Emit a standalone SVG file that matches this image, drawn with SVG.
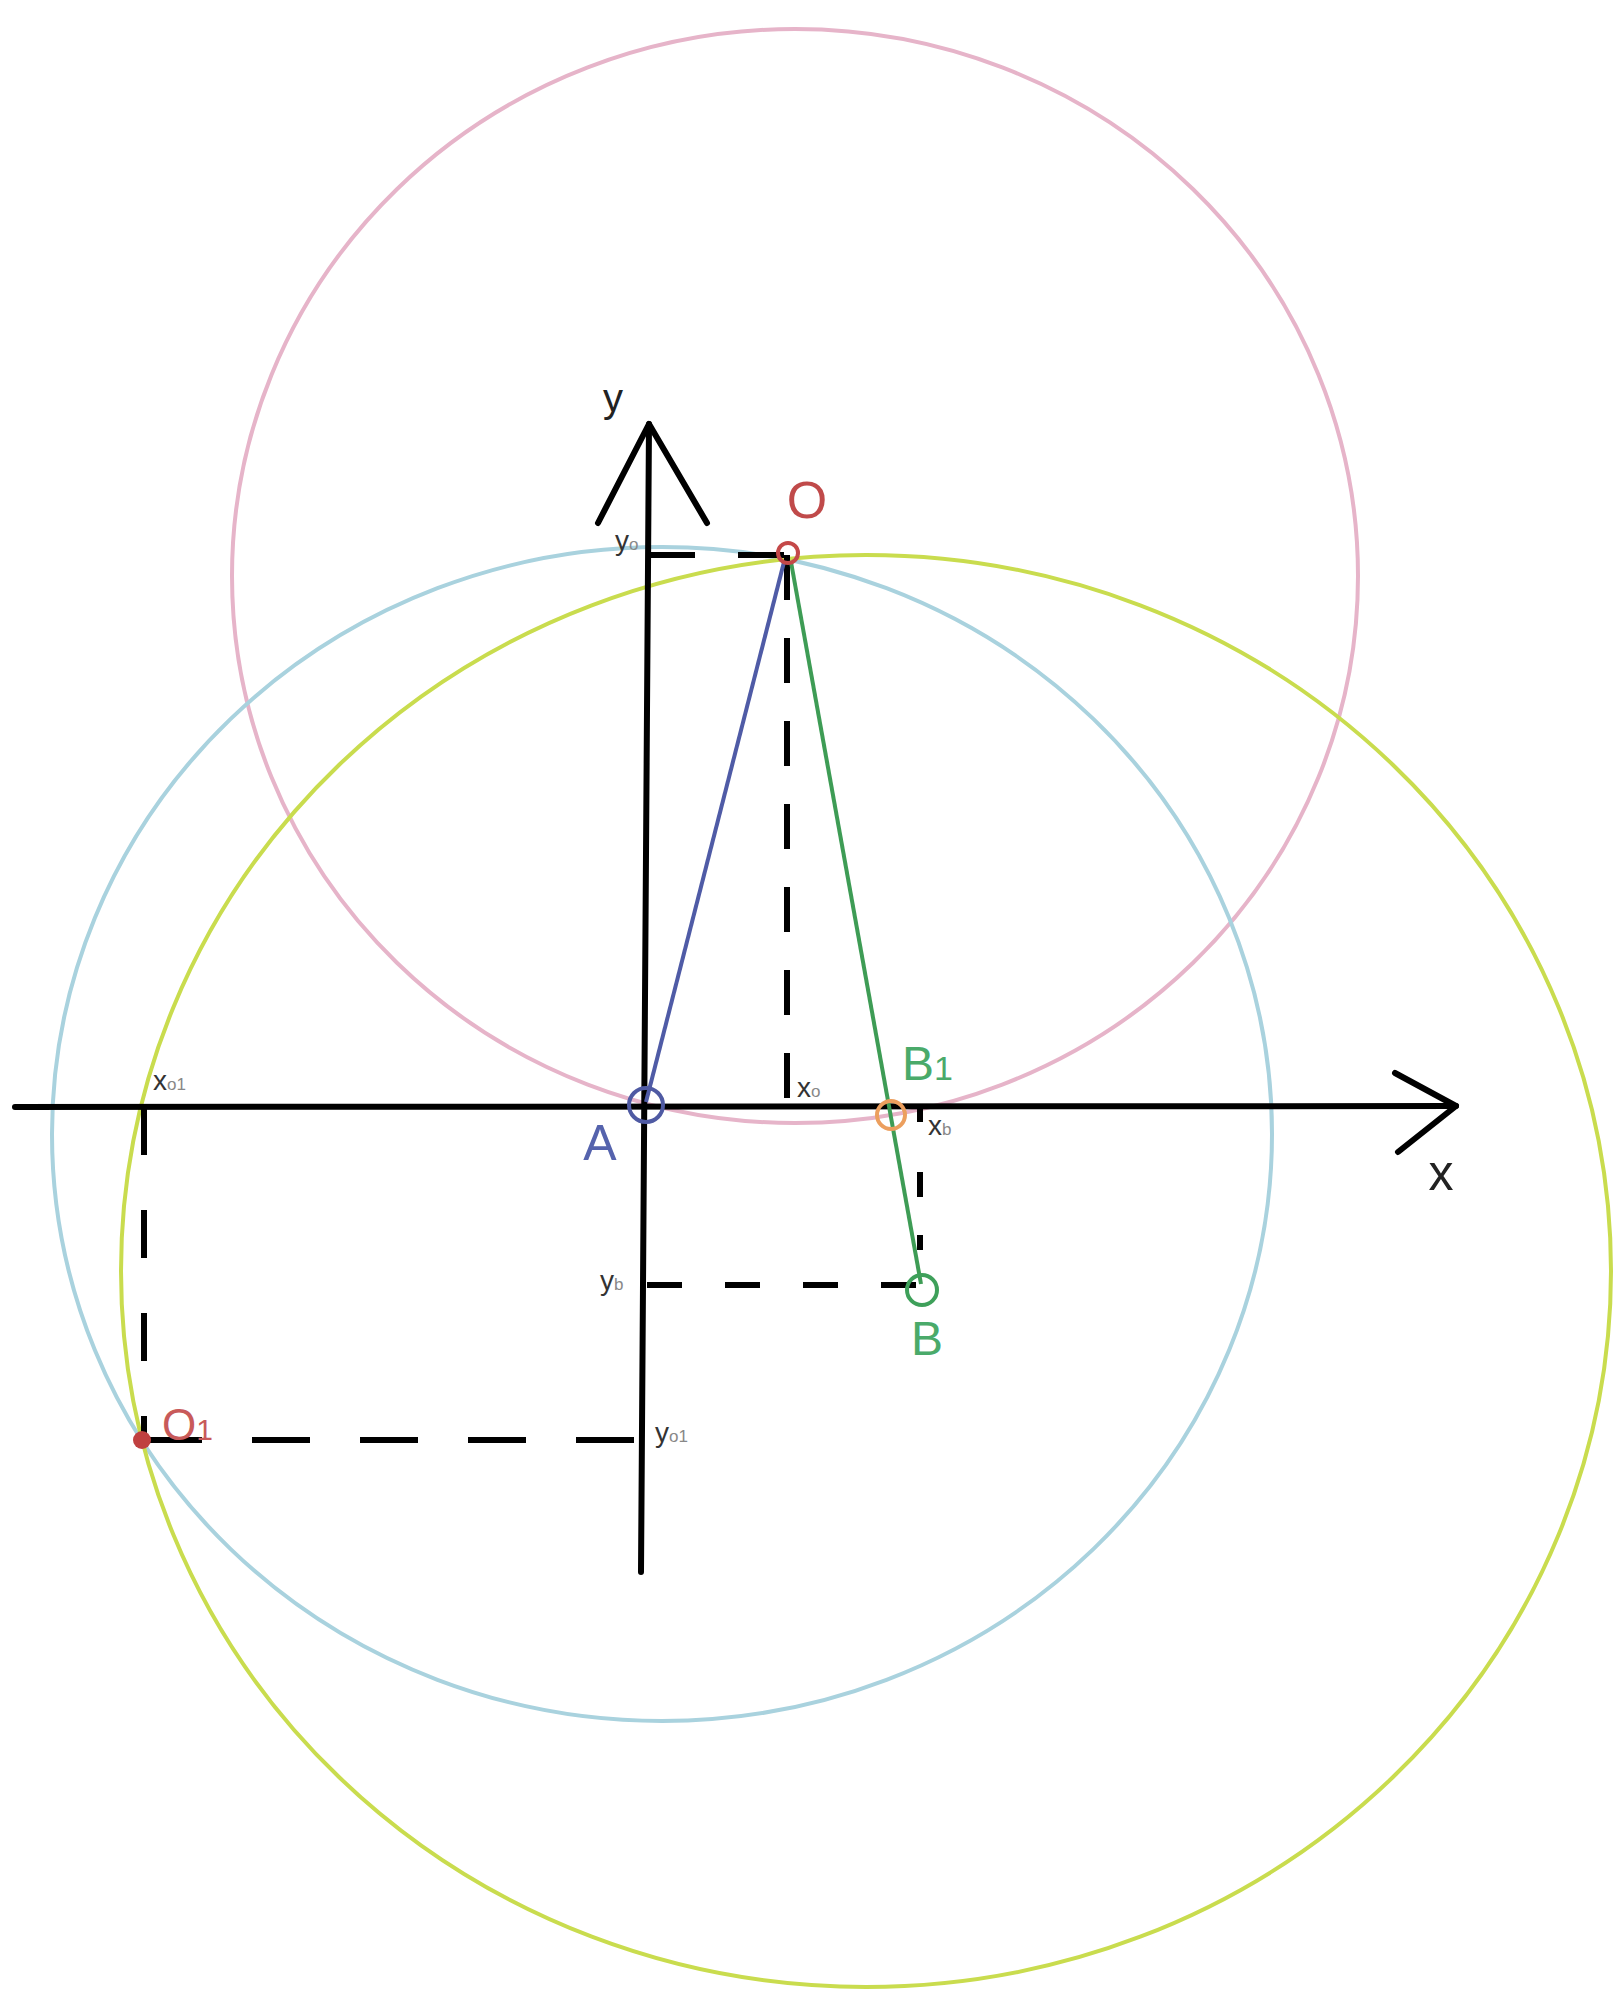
<svg xmlns="http://www.w3.org/2000/svg" width="1622" height="2013" viewBox="0 0 1622 2013">
<style>
.circ{fill:none;stroke-width:4}
.axis{fill:none;stroke:#000;stroke-width:6;stroke-linecap:round;stroke-linejoin:round}
.dash{fill:none;stroke:#000;stroke-width:6}
.lbl{font-family:"Liberation Sans",Arial,sans-serif}
.sm{font-family:"Liberation Sans",Arial,sans-serif;font-size:28px;fill:#333}
.sub{font-size:17px;fill:#888}
</style>
<rect width="1622" height="2013" fill="#fff"/>
<g id="circles">
<ellipse id="circle-pink" class="circ" cx="795" cy="576" rx="563" ry="547" stroke="#e6b4c9"/>
<ellipse id="circle-blue" class="circ" cx="662" cy="1134" rx="610" ry="587" stroke="#a9d2de"/>
<ellipse id="circle-yellow" class="circ" cx="866" cy="1271" rx="745" ry="716" stroke="#c9dc4e"/>
</g>
<g id="connectors">
<path id="y-axis" class="axis" d="M649,424 L641,1572"/>
<path id="y-arrow" class="axis" d="M598,523 L649,424 L707,523"/>
<path id="x-axis" class="axis" d="M15,1107 L1456,1106"/>
<path id="x-arrow" class="axis" d="M1395,1073 L1456,1106 L1398,1152"/>
<path id="dash-yo" class="dash" d="M649,555 L788,555" stroke-dasharray="46 43"/>
<path id="dash-xo" class="dash" d="M787,555 L787,1107" stroke-dasharray="45 38"/>
<path id="dash-xb" class="dash" d="M920,1107 L920,1287" stroke-dasharray="15 50 25 38"/>
<path id="dash-yb" class="dash" d="M647,1285 L920,1285" stroke-dasharray="35 43"/>
<path id="dash-xo1" class="dash" d="M144,1107 L144,1440" stroke-dasharray="48 55"/>
<path id="dash-yo1" class="dash" d="M144,1440 L645,1440" stroke-dasharray="58 50"/>
<path id="line-OA" d="M646,1102 L784,562" stroke="#4f5ba6" stroke-width="4" fill="none"/>
<path id="line-OB" d="M791,562 L921,1284" stroke="#3e9c55" stroke-width="4" fill="none"/>
</g>
<g id="node-O">
<circle cx="788" cy="553" r="10" fill="none" stroke="#c44848" stroke-width="4"/>
<text class="lbl" x="807" y="518" font-size="52" fill="#c04a4a" text-anchor="middle">O</text>
</g>
<g id="node-A">
<circle cx="646" cy="1105" r="17" fill="none" stroke="#4f5aa3" stroke-width="4"/>
<text class="lbl" x="600" y="1160" font-size="50" fill="#5563ad" text-anchor="middle">A</text>
</g>
<g id="node-B">
<circle cx="922" cy="1290" r="15" fill="none" stroke="#3ea05a" stroke-width="4"/>
<text class="lbl" x="927" y="1355" font-size="48" fill="#4aaa6a" text-anchor="middle">B</text>
</g>
<g id="node-B1">
<circle cx="891" cy="1115" r="14" fill="none" stroke="#ec9f5e" stroke-width="4"/>
<text class="lbl" x="902" y="1080" font-size="48" fill="#4aaa6a">B<tspan font-size="34">1</tspan></text>
</g>
<g id="node-O1">
<circle cx="142" cy="1440" r="9" fill="#c04040"/>
<text class="lbl" x="162" y="1440" font-size="44" fill="#c85a5a">O<tspan font-size="30">1</tspan></text>
</g>
<g id="axis-labels">
<text class="lbl" x="613" y="412" font-size="40" fill="#222" text-anchor="middle">y</text>
<text class="lbl" x="1441" y="1190" font-size="50" fill="#222" text-anchor="middle">x</text>
<text class="sm" x="615" y="550">y<tspan class="sub">o</tspan></text>
<text class="sm" x="797" y="1097">x<tspan class="sub">o</tspan></text>
<text class="sm" x="928" y="1135">x<tspan class="sub">b</tspan></text>
<text class="sm" x="600" y="1290">y<tspan class="sub">b</tspan></text>
<text class="sm" x="153" y="1090">x<tspan class="sub">o1</tspan></text>
<text class="sm" x="655" y="1442">y<tspan class="sub">o1</tspan></text>
</g>
</svg>
